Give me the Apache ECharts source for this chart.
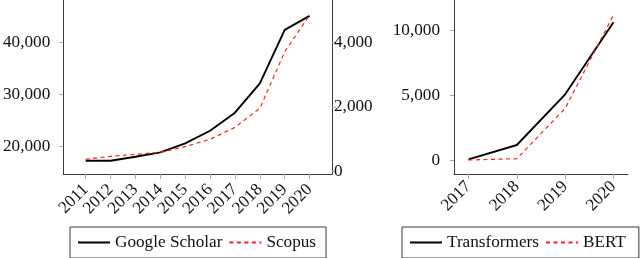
<!DOCTYPE html>
<html><head><meta charset="utf-8">
<script src="https://cdn.jsdelivr.net/npm/echarts@6/dist/echarts.min.js"></script>
<style>html,body{margin:0;padding:0;background:#fff}#c{width:640px;height:258px}</style>
</head><body><div id="c"></div>
<script>
const yearsA = [2011,2012,2013,2014,2015,2016,2017,2018,2019,2020];
const scholar = [17160,17160,17930,18780,20520,22950,26430,32100,42410,45130];
const scopus = [378,470,532,594,768,997,1368,1957,3709,4840];
const yearsB = [2017,2018,2019,2020];
const transformers = [50,1154,5051,10590];
const bert = [0,100,3974,11154];
const ticksScholar = [20000,30000,40000];
const ticksScopus = [0,2000,4000];
const ticksB = [0,5000,10000];

const FONT = 'Liberation Serif';
const FS = 17.2;
const txt = '#111';
const axisCol = '#3a3a3a';
const tickCol = '#aaaaaa';
const fmtNum = v => Number(v).toLocaleString('en-US');
const pairs = (xs, ys) => xs.map((x,i)=>[x, ys[i]]);

function xAxis(grid, min, max, years, margin){
  return {type:'value', gridIndex:grid, min, max,
    axisLine:{show:true, onZero:false, lineStyle:{color:axisCol, width:1}},
    axisTick:{show:true, length:5, lineStyle:{color:tickCol}, customValues: years},
    axisLabel:{rotate:45, margin, fontFamily:FONT, fontSize:FS, color:txt, customValues: years, formatter: v=>String(v)},
    splitLine:{show:false}};
}
function yAxis(grid, min, max, ticks, pos, margin, showLine){
  return {type:'value', gridIndex:grid, min, max, position:pos,
    axisLine:{show:showLine, onZero:false, lineStyle:{color:axisCol, width:1}},
    axisTick:{show:true, length:4, lineStyle:{color:tickCol}, customValues: ticks},
    axisLabel:{margin, fontFamily:FONT, fontSize:FS, color:txt, customValues: ticks, formatter: fmtNum},
    splitLine:{show:false}};
}
const legendBase = {
  orient:'horizontal', itemWidth:32, itemHeight:14, itemGap:6,
  borderColor:axisCol, borderWidth:1, borderRadius:0,
  itemStyle:{color:'transparent', borderColor:'transparent', borderWidth:0, opacity:0},
  textStyle:{fontFamily:FONT, fontSize:FS, color:txt, lineHeight:16}
};

const chart = echarts.init(document.getElementById('c'), null, {renderer:'canvas'});
chart.setOption({
  animation:false,
  backgroundColor:'#fff',
  grid:[
    {left:62, top:0, width:270, height:174},
    {left:454, top:0, width:174, height:174}
  ],
  xAxis:[ xAxis(0, 2010.1, 2020.9, yearsA, 13), xAxis(1, 2016.7, 2020.3, yearsB, 10) ],
  yAxis:[
    yAxis(0, 14600, 48180, ticksScholar, 'left', 13, true),
    yAxis(0, -77, 5310, ticksScopus, 'right', 2, true),
    yAxis(1, -1077, 12308, ticksB, 'left', 14, true)
  ],
  legend:[
    Object.assign({data:['Google Scholar','Scopus'], left:70, top:227, padding:[7,10,7,7]}, legendBase),
    Object.assign({data:['Transformers','BERT'], left:402, top:227, padding:[7,13,7,7]}, legendBase)
  ],
  series:[
    {name:'Google Scholar', type:'line', xAxisIndex:0, yAxisIndex:0, data:pairs(yearsA, scholar),
     symbol:'none', color:'#000', lineStyle:{color:'#000', width:1.9}},
    {name:'Scopus', type:'line', xAxisIndex:0, yAxisIndex:1, data:pairs(yearsA, scopus),
     symbol:'none', color:'#ff0000', lineStyle:{color:'#ff2020', width:1.2, type:[4,3.5]}},
    {name:'Transformers', type:'line', xAxisIndex:1, yAxisIndex:2, data:pairs(yearsB, transformers),
     symbol:'none', color:'#000', lineStyle:{color:'#000', width:1.9}},
    {name:'BERT', type:'line', xAxisIndex:1, yAxisIndex:2, data:pairs(yearsB, bert),
     symbol:'none', color:'#ff0000', lineStyle:{color:'#ff2020', width:1.2, type:[4,3.5]}}
  ]
});
</script></body></html>
